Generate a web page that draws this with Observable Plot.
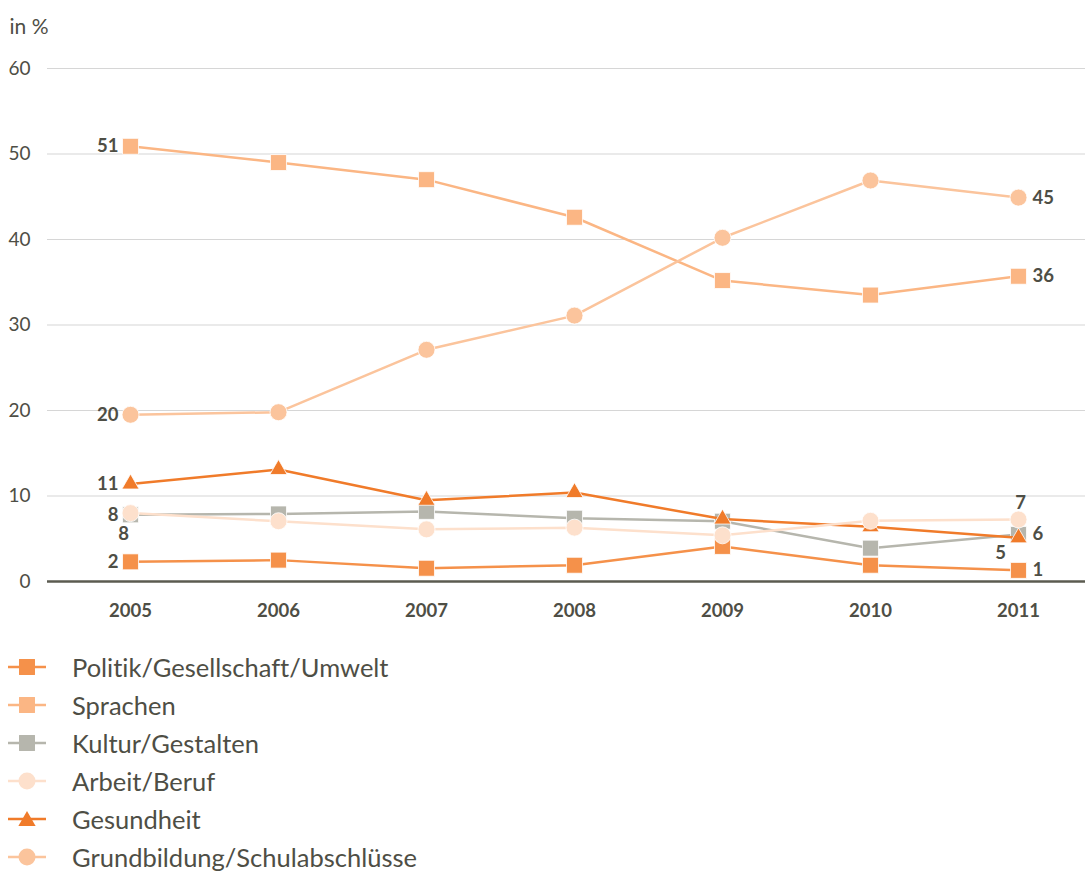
<!DOCTYPE html>
<html>
<head>
<meta charset="utf-8">
<script src="https://cdn.jsdelivr.net/npm/d3@7"></script>
<script src="https://cdn.jsdelivr.net/npm/@observablehq/plot@0.6"></script>
<style>
  body { margin: 0; background: #fff; font-family: Lato, "Open Sans", sans-serif; color: #4e4e45; font-variant-ligatures: none; }
  svg text { font-variant-ligatures: none; }
  #legend { margin-top: 18px; }
  .item { display: flex; align-items: center; height: 38px; font-size: 25.5px; }
  .item svg { margin-left: 8px; margin-right: 26px; }
</style>
</head>
<body>
<div id="chart"></div>
<div id="legend"></div>
<script>
// ---- data ----
const years = [2005, 2006, 2007, 2008, 2009, 2010, 2011];
const seriesNames = [
  "Politik/Gesellschaft/Umwelt",
  "Sprachen",
  "Kultur/Gestalten",
  "Arbeit/Beruf",
  "Gesundheit",
  "Grundbildung/Schulabschlüsse"
];
const politik      = [2.3, 2.5, 1.55, 1.9, 4.1, 1.9, 1.3];
const sprachen     = [50.9, 49.0, 47.0, 42.6, 35.2, 33.5, 35.7];
const kultur       = [7.8, 7.9, 8.2, 7.4, 7.05, 3.9, 5.5];
const arbeit       = [8.0, 7.05, 6.1, 6.3, 5.4, 7.1, 7.25];
const gesundheit   = [11.4, 13.1, 9.5, 10.4, 7.3, 6.4, 5.1];
const grundbildung = [19.5, 19.8, 27.1, 31.1, 40.2, 46.9, 44.9];
const yTicks = [0, 10, 20, 30, 40, 50, 60];
const unitLabel = "in %";

// ---- styles ----
const colors = ["#f5914a", "#fbb684", "#b6b6ad", "#fde0cc", "#f07b2a", "#fbc49c"];
const symbols = ["square", "square", "square", "circle", "triangle", "circle"];
const values = [politik, sprachen, kultur, arbeit, gesundheit, grundbildung];
const textColor = "#4e4e45";

const table = [];
seriesNames.forEach((s, i) => years.forEach((yr, j) => table.push({series: s, year: yr, value: values[i][j]})));

// draw order (Gesundheit beneath Arbeit/Beruf)
const drawOrder = [0, 1, 2, 4, 3, 5];

const dotR = {square: 9, circle: 8.5, triangle: 6.4};

const marks = [
  Plot.ruleY(yTicks.filter(d => d > 0), {stroke: "#d6d6d6", strokeWidth: 1.2}),
  Plot.ruleY([0], {stroke: "#5b5b50", strokeWidth: 2.5}),
  Plot.axisY({ticks: yTicks, tickSize: 0, tickPadding: 17, fontSize: 19, fill: textColor, label: null}),
  Plot.axisX({tickSize: 0, tickPadding: 22, fontSize: 18.5, fontWeight: "bold", fill: textColor, tickFormat: d => String(d), label: null}),
  Plot.text([unitLabel], {frameAnchor: "top-left", dx: -38, dy: -49, textAnchor: "start", fontSize: 21, fill: textColor})
];

for (const i of drawOrder) {
  const s = seriesNames[i];
  const rows = table.filter(d => d.series === s);
  marks.push(Plot.line(rows, {x: "year", y: "value", stroke: colors[i], strokeWidth: 2.5}));
  marks.push(Plot.dot(rows, {x: "year", y: "value", symbol: symbols[i], fill: colors[i], r: dotR[symbols[i]], stroke: "white", strokeWidth: 0.8}));
}

// value labels at first and last year
const specialPlacement = {
  "Arbeit/Beruf|first": {dx: -7, dy: 21, textAnchor: "middle"},
  "Arbeit/Beruf|last": {dx: 2, dy: -16, textAnchor: "middle"},
  "Gesundheit|last": {dx: -18, dy: 15, textAnchor: "middle"}
};
seriesNames.forEach((s, i) => {
  [["first", 0], ["last", years.length - 1]].forEach(([pos, j]) => {
    const row = {year: years[j], value: values[i][j], label: String(Math.round(values[i][j]))};
    const place = specialPlacement[s + "|" + pos] ||
      (pos === "first" ? {dx: -12, dy: 0, textAnchor: "end"} : {dx: 14, dy: 0, textAnchor: "start"});
    marks.push(Plot.text([row], {x: "year", y: "value", text: "label", ...place,
      fontSize: 18.5, fontWeight: "bold", fill: textColor}));
  });
});

const chart = Plot.plot({
  width: 1085,
  height: 630,
  marginTop: 68,
  marginBottom: 49,
  marginLeft: 47,
  marginRight: 0,
  style: {fontFamily: "Lato, 'Open Sans', sans-serif", color: textColor, background: "white"},
  x: {type: "point", domain: years, range: [130, 1018], padding: 0},
  y: {domain: [0, 60]},
  marks
});
document.getElementById("chart").appendChild(chart);

// legend
const legend = d3.select("#legend");
seriesNames.forEach((s, i) => {
  const item = legend.append("div").attr("class", "item");
  const svg = item.append("svg").attr("width", 38).attr("height", 20);
  svg.append("line").attr("x1", 0).attr("x2", 38).attr("y1", 10).attr("y2", 10)
    .attr("stroke", colors[i]).attr("stroke-width", 2.5);
  const sym = symbols[i] === "square" ? d3.symbolSquare : symbols[i] === "circle" ? d3.symbolCircle : d3.symbolTriangle;
  const r = dotR[symbols[i]];
  svg.append("path").attr("d", d3.symbol(sym, Math.PI * r * r)())
    .attr("transform", `translate(19,${symbols[i] === "triangle" ? 12 : 10})`)
    .attr("fill", colors[i]);
  item.append("span").text(s);
});
</script>
</body>
</html>
